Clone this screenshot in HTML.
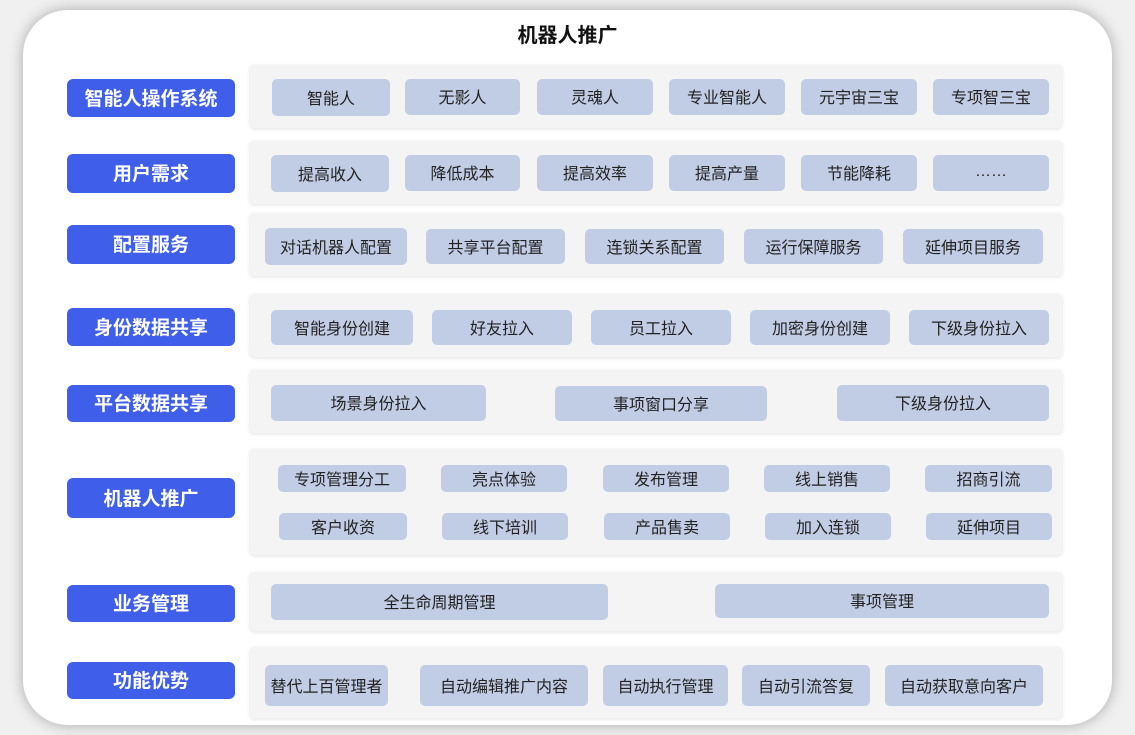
<!DOCTYPE html>
<html><head><meta charset="utf-8"><style>
*{margin:0;padding:0;box-sizing:border-box}
body{width:1135px;height:735px;background:#f0f0f0;position:relative;overflow:hidden;font-family:"Liberation Sans","Noto Sans CJK SC",sans-serif}
.card{position:absolute;left:23px;top:10px;width:1089px;height:715px;background:#fff;border-radius:45px;box-shadow:0 0 14px rgba(0,0,0,.3)}
.title{position:absolute;left:0;width:1135px;top:23px;text-align:center;font-size:20px;font-weight:bold;color:#111;line-height:26px}
.lab{position:absolute;left:67px;width:168px;background:#3f5ee9;color:#fff;border-radius:6px;font-weight:bold;font-size:19px;display:flex;align-items:center;justify-content:center;padding-bottom:2px}
.pan{position:absolute;left:250px;width:812px;background:#f4f4f4;border-radius:4px;box-shadow:0 1px 4px rgba(0,0,0,.12)}
.c{position:absolute;background:#c1cde4;border-radius:5px;font-size:16px;color:#222;display:flex;align-items:center;justify-content:center;padding-bottom:2px}
</style></head><body>
<div class="card"></div>
<div class="title">机器人推广</div>

<div class="pan" style="top:65px;height:63px"></div>
<div class="lab" style="top:79px;height:38px">智能人操作系统</div>
<div class="c" style="left:272px;top:79px;width:118px;height:37px">智能人</div>
<div class="c" style="left:405px;top:79px;width:115px;height:36px">无影人</div>
<div class="c" style="left:537px;top:79px;width:116px;height:36px">灵魂人</div>
<div class="c" style="left:669px;top:79px;width:116px;height:36px">专业智能人</div>
<div class="c" style="left:801px;top:79px;width:116px;height:36px">元宇宙三宝</div>
<div class="c" style="left:933px;top:79px;width:116px;height:36px">专项智三宝</div>

<div class="pan" style="top:141px;height:63px"></div>
<div class="lab" style="top:154px;height:39px">用户需求</div>
<div class="c" style="left:271px;top:155px;width:118px;height:37px">提高收入</div>
<div class="c" style="left:405px;top:155px;width:115px;height:36px">降低成本</div>
<div class="c" style="left:537px;top:155px;width:116px;height:36px">提高效率</div>
<div class="c" style="left:669px;top:155px;width:116px;height:36px">提高产量</div>
<div class="c" style="left:801px;top:155px;width:116px;height:36px">节能降耗</div>
<div class="c" style="left:933px;top:155px;width:116px;height:36px">……</div>

<div class="pan" style="top:213px;height:63px"></div>
<div class="lab" style="top:225px;height:39px">配置服务</div>
<div class="c" style="left:265px;top:228px;width:142px;height:37px">对话机器人配置</div>
<div class="c" style="left:426px;top:229px;width:139px;height:35px">共享平台配置</div>
<div class="c" style="left:585px;top:229px;width:139px;height:35px">连锁关系配置</div>
<div class="c" style="left:744px;top:229px;width:139px;height:35px">运行保障服务</div>
<div class="c" style="left:903px;top:229px;width:140px;height:35px">延伸项目服务</div>

<div class="pan" style="top:294px;height:63px"></div>
<div class="lab" style="top:308px;height:38px">身份数据共享</div>
<div class="c" style="left:271px;top:310px;width:142px;height:35px">智能身份创建</div>
<div class="c" style="left:432px;top:310px;width:140px;height:35px">好友拉入</div>
<div class="c" style="left:591px;top:310px;width:140px;height:35px">员工拉入</div>
<div class="c" style="left:750px;top:310px;width:140px;height:35px">加密身份创建</div>
<div class="c" style="left:909px;top:310px;width:140px;height:35px">下级身份拉入</div>

<div class="pan" style="top:370px;height:63px"></div>
<div class="lab" style="top:385px;height:37px">平台数据共享</div>
<div class="c" style="left:271px;top:385px;width:215px;height:36px">场景身份拉入</div>
<div class="c" style="left:555px;top:386px;width:212px;height:35px">事项窗口分享</div>
<div class="c" style="left:837px;top:385px;width:212px;height:36px">下级身份拉入</div>

<div class="pan" style="top:449px;height:106px"></div>
<div class="lab" style="top:478px;height:40px">机器人推广</div>
<div class="c" style="left:278px;top:465px;width:128px;height:27px">专项管理分工</div>
<div class="c" style="left:441px;top:465px;width:126px;height:27px">亮点体验</div>
<div class="c" style="left:603px;top:465px;width:126px;height:27px">发布管理</div>
<div class="c" style="left:764px;top:465px;width:126px;height:27px">线上销售</div>
<div class="c" style="left:925px;top:465px;width:127px;height:27px">招商引流</div>
<div class="c" style="left:279px;top:513px;width:128px;height:27px">客户收资</div>
<div class="c" style="left:442px;top:513px;width:126px;height:27px">线下培训</div>
<div class="c" style="left:604px;top:513px;width:126px;height:27px">产品售卖</div>
<div class="c" style="left:765px;top:513px;width:126px;height:27px">加入连锁</div>
<div class="c" style="left:926px;top:513px;width:126px;height:27px">延伸项目</div>

<div class="pan" style="top:572px;height:59px"></div>
<div class="lab" style="top:585px;height:37px">业务管理</div>
<div class="c" style="left:271px;top:584px;width:337px;height:36px">全生命周期管理</div>
<div class="c" style="left:715px;top:584px;width:334px;height:34px">事项管理</div>

<div class="pan" style="top:647px;height:71px"></div>
<div class="lab" style="top:662px;height:37px">功能优势</div>
<div class="c" style="left:265px;top:665px;width:123px;height:41px">替代上百管理者</div>
<div class="c" style="left:420px;top:665px;width:168px;height:41px">自动编辑推广内容</div>
<div class="c" style="left:603px;top:665px;width:125px;height:41px">自动执行管理</div>
<div class="c" style="left:742px;top:665px;width:128px;height:41px">自动引流答复</div>
<div class="c" style="left:885px;top:665px;width:158px;height:41px">自动获取意向客户</div>
</body></html>
